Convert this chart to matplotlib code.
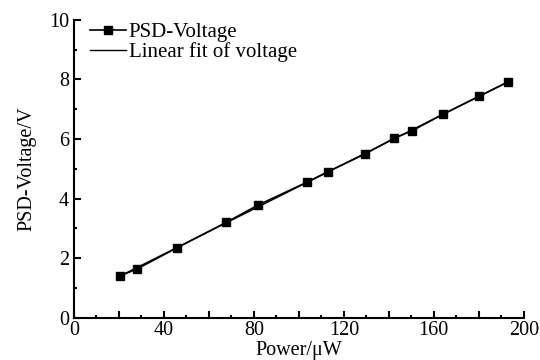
import numpy as np
import matplotlib.pyplot as plt
from matplotlib.ticker import MultipleLocator, FuncFormatter

plt.rcParams['font.family'] = ['Liberation Serif', 'DejaVu Serif']

power = [20.5, 28, 46, 67.6, 82, 103.8, 113.1, 129.4, 142.2, 150.4, 164, 180.3, 192.9]
voltage = [1.41, 1.64, 2.36, 3.2, 3.79, 4.56, 4.91, 5.5, 6.02, 6.28, 6.83, 7.44, 7.91]

x = np.array(power)
y = np.array(voltage)
k, b = np.polyfit(x, y, 1)
xf = np.linspace(x.min(), x.max(), 50)

fig = plt.figure(figsize=(5.4, 3.6), dpi=100)
ax = fig.add_axes([0.137, 0.117, 0.833, 0.828])

ax.plot(x, y, '-s', color='black', lw=1.2, ms=5.5, label='PSD-Voltage')
ax.plot(xf, k * xf + b, '-', color='black', lw=1.0, label='Linear fit of voltage')

ax.set_xlim(0, 200)
ax.set_ylim(0, 10)
ax.spines['top'].set_visible(False)
ax.spines['right'].set_visible(False)
ax.spines['left'].set_linewidth(1.5)
ax.spines['bottom'].set_linewidth(1.5)

ax.xaxis.set_major_locator(MultipleLocator(20))
ax.xaxis.set_minor_locator(MultipleLocator(10))
ax.xaxis.set_major_formatter(FuncFormatter(lambda v, p: f"{int(v)}" if round(v) % 40 == 0 else ""))
ax.yaxis.set_major_locator(MultipleLocator(2))
ax.yaxis.set_minor_locator(MultipleLocator(1))
ax.tick_params(which='major', direction='in', length=5, width=1.5, labelsize=14.5)
ax.tick_params(axis='x', which='major', pad=2)
ax.tick_params(which='minor', direction='in', length=2.5, width=1.5)

ax.set_xlabel('Power/\u03bcW', fontsize=14.5, labelpad=1)
ax.set_ylabel('PSD-Voltage/V', fontsize=14.5, labelpad=9)

ax.legend(loc='upper left', frameon=False, fontsize=15, handlelength=1.7,
          handletextpad=0.15, borderaxespad=0, borderpad=0, labelspacing=0.0,
          bbox_to_anchor=(0.036, 0.99))

fig.savefig('out.png')
plt.close(fig)
